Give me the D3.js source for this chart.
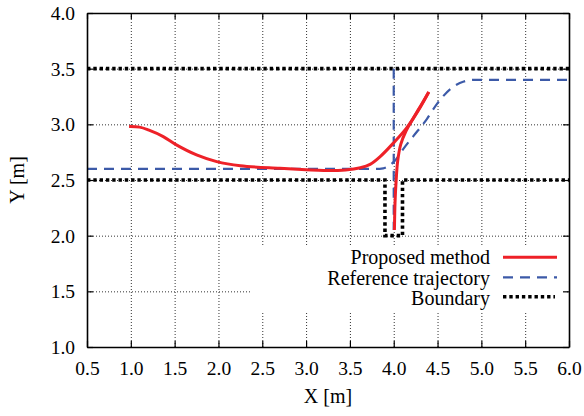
<!DOCTYPE html>
<html>
<head>
<meta charset="utf-8">
<script src="https://cdn.jsdelivr.net/npm/d3@7"></script>
<style>
  html, body { margin: 0; padding: 0; background: #fff; }
  svg { display: block; }
</style>
</head>
<body>
<svg id="chart" width="584" height="416"></svg>
<script>
// ---- data ----
const xTicks = [0.5, 1.0, 1.5, 2.0, 2.5, 3.0, 3.5, 4.0, 4.5, 5.0, 5.5, 6.0];
const yTicks = [1.0, 1.5, 2.0, 2.5, 3.0, 3.5, 4.0];

// Proposed method: forward run then reverse into the slot
const proposedX = [0.98, 1.1, 1.2, 1.37, 1.52, 1.75, 1.98, 2.25, 2.7, 3.0, 3.2, 3.45, 3.62, 3.73, 3.845, 4.0, 4.15, 4.3, 4.40,
                   4.31, 4.22, 4.14, 4.08, 4.045, 4.028, 4.015, 4.008];
const proposedY = [2.98, 2.975, 2.95, 2.89, 2.815, 2.725, 2.665, 2.628, 2.605, 2.592, 2.585, 2.59, 2.61, 2.64, 2.71, 2.835, 2.97, 3.15, 3.29,
                   3.17, 3.05, 2.94, 2.82, 2.67, 2.50, 2.30, 2.05];
const proposedSplit = 18; // index of the turning point

// Reference trajectory: lane change and parking line
const refLaneX = [0.5, 3.8, 3.88, 3.95, 4.02, 4.11, 4.22, 4.38, 4.5, 4.65, 4.8, 4.92, 6.0];
const refLaneY = [2.6, 2.6, 2.605, 2.63, 2.68, 2.78, 2.89, 3.05, 3.19, 3.32, 3.385, 3.40, 3.40];
const refParkX = [4.0, 4.0];
const refParkY = [3.5, 2.05];

// Boundary
const boundTopX = [0.5, 6.0];
const boundTopY = [3.5, 3.5];
const boundLowX = [0.5, 3.9, 3.9, 4.1, 4.1, 6.0];
const boundLowY = [2.5, 2.5, 2.0, 2.0, 2.5, 2.5];

const legendLabels = ["Proposed method", "Reference trajectory", "Boundary"];

// ---- layout ----
const L = 87, R = 569, T = 13, B = 347;
const FONT = "'Liberation Serif', 'Times New Roman', serif";
const RED = "#ee2128", BLUE = "#3c5aa8";

const svg = d3.select("#chart");
const x = d3.scaleLinear().domain([0.5, 6.0]).range([L, R]);
const y = d3.scaleLinear().domain([1.0, 4.0]).range([B, T]);

// grid
const gridX = svg.append("g").attr("transform", `translate(0,${B})`)
  .call(d3.axisBottom(x).tickValues(xTicks.slice(1, -1)).tickSize(-(B - T)).tickFormat(""));
const gridY = svg.append("g").attr("transform", `translate(${L},0)`)
  .call(d3.axisLeft(y).tickValues(yTicks.slice(1, -1)).tickSize(-(R - L)).tickFormat(""));
[gridX, gridY].forEach(g => {
  g.select(".domain").remove();
  g.selectAll("line").attr("stroke", "#333").attr("stroke-width", 1).attr("stroke-dasharray", "1,2");
});

// legend box (opaque)
svg.append("rect").attr("x", 250).attr("y", 247).attr("width", 316).attr("height", 64).attr("fill", "#fff");

const line = (xs, ys) => d3.line().x((d, i) => x(xs[i])).y((d, i) => y(ys[i]))(xs);
const curve = (xs, ys) => d3.line().x((d, i) => x(xs[i])).y((d, i) => y(ys[i])).curve(d3.curveMonotoneX)(xs);
const smooth = (xs, ys) => d3.line().x((d, i) => x(xs[i])).y((d, i) => y(ys[i])).curve(d3.curveCatmullRom)(xs);

// boundary
const bStyle = p => p.attr("fill", "none").attr("stroke", "#000").attr("stroke-width", 3.6).attr("stroke-dasharray", "3.4,2.9");
svg.append("path").attr("d", line(boundTopX, boundTopY)).call(bStyle);
svg.append("path").attr("d", line(boundLowX, boundLowY)).call(bStyle);

// reference
const rStyle = p => p.attr("fill", "none").attr("stroke", BLUE).attr("stroke-width", 2.2).attr("stroke-dasharray", "10,7");
svg.append("path").attr("d", curve(refLaneX, refLaneY)).call(rStyle);
svg.append("path").attr("d", line(refParkX, refParkY)).call(rStyle);

// proposed
const pStyle = p => p.attr("fill", "none").attr("stroke", RED).attr("stroke-width", 3).attr("stroke-linejoin", "round").attr("stroke-linecap", "butt");
svg.append("path").attr("d", smooth(proposedX.slice(0, proposedSplit + 1), proposedY.slice(0, proposedSplit + 1))).call(pStyle);
svg.append("path").attr("d", smooth(proposedX.slice(proposedSplit), proposedY.slice(proposedSplit))).call(pStyle);

// axes (inward ticks, mirrored)
const ax = [
  svg.append("g").attr("transform", `translate(0,${B})`).call(d3.axisBottom(x).tickValues(xTicks).tickFormat(d3.format(".1f")).tickSizeInner(-6).tickSizeOuter(0).tickPadding(0)),
  svg.append("g").attr("transform", `translate(${L},0)`).call(d3.axisLeft(y).tickValues(yTicks).tickFormat(d3.format(".1f")).tickSizeInner(-6).tickSizeOuter(0).tickPadding(0)),
  svg.append("g").attr("transform", `translate(0,${T})`).call(d3.axisTop(x).tickValues(xTicks).tickFormat("").tickSizeInner(-6).tickSizeOuter(0)),
  svg.append("g").attr("transform", `translate(${R},0)`).call(d3.axisRight(y).tickValues(yTicks).tickFormat("").tickSizeInner(-6).tickSizeOuter(0))
];
ax.forEach(g => {
  g.select(".domain").attr("stroke", "#000").attr("stroke-width", 1.6);
  g.selectAll(".tick line").attr("stroke", "#000").attr("stroke-width", 1.2);
  g.selectAll("text").attr("font-family", FONT).attr("font-size", 19.5).attr("fill", "#000");
});
ax[0].selectAll("text").attr("y", 28).attr("dy", 0);
ax[1].selectAll("text").attr("x", -12).attr("dy", "0.33em");

// axis titles
svg.append("text").attr("x", (L + R) / 2).attr("y", 403).attr("text-anchor", "middle")
  .attr("font-family", FONT).attr("font-size", 20).text("X [m]");
svg.append("text").attr("transform", `translate(24,${(T + B) / 2}) rotate(-90)`).attr("text-anchor", "middle")
  .attr("font-family", FONT).attr("font-size", 20).text("Y [m]");

// legend
const legLineY = [257.3, 277.3, 296.8];
const legTextY = [264, 284.5, 304.5];
legendLabels.forEach((lab, i) => {
  svg.append("text").attr("x", 490).attr("y", legTextY[i]).attr("text-anchor", "end")
    .attr("font-family", FONT).attr("font-size", 20).text(lab);
});
svg.append("line").attr("x1", 503).attr("x2", 557).attr("y1", legLineY[0]).attr("y2", legLineY[0]).call(pStyle);
svg.append("line").attr("x1", 503).attr("x2", 557).attr("y1", legLineY[1]).attr("y2", legLineY[1]).call(rStyle);
svg.append("line").attr("x1", 503).attr("x2", 555).attr("y1", legLineY[2]).attr("y2", legLineY[2]).call(bStyle);
</script>
</body>
</html>
